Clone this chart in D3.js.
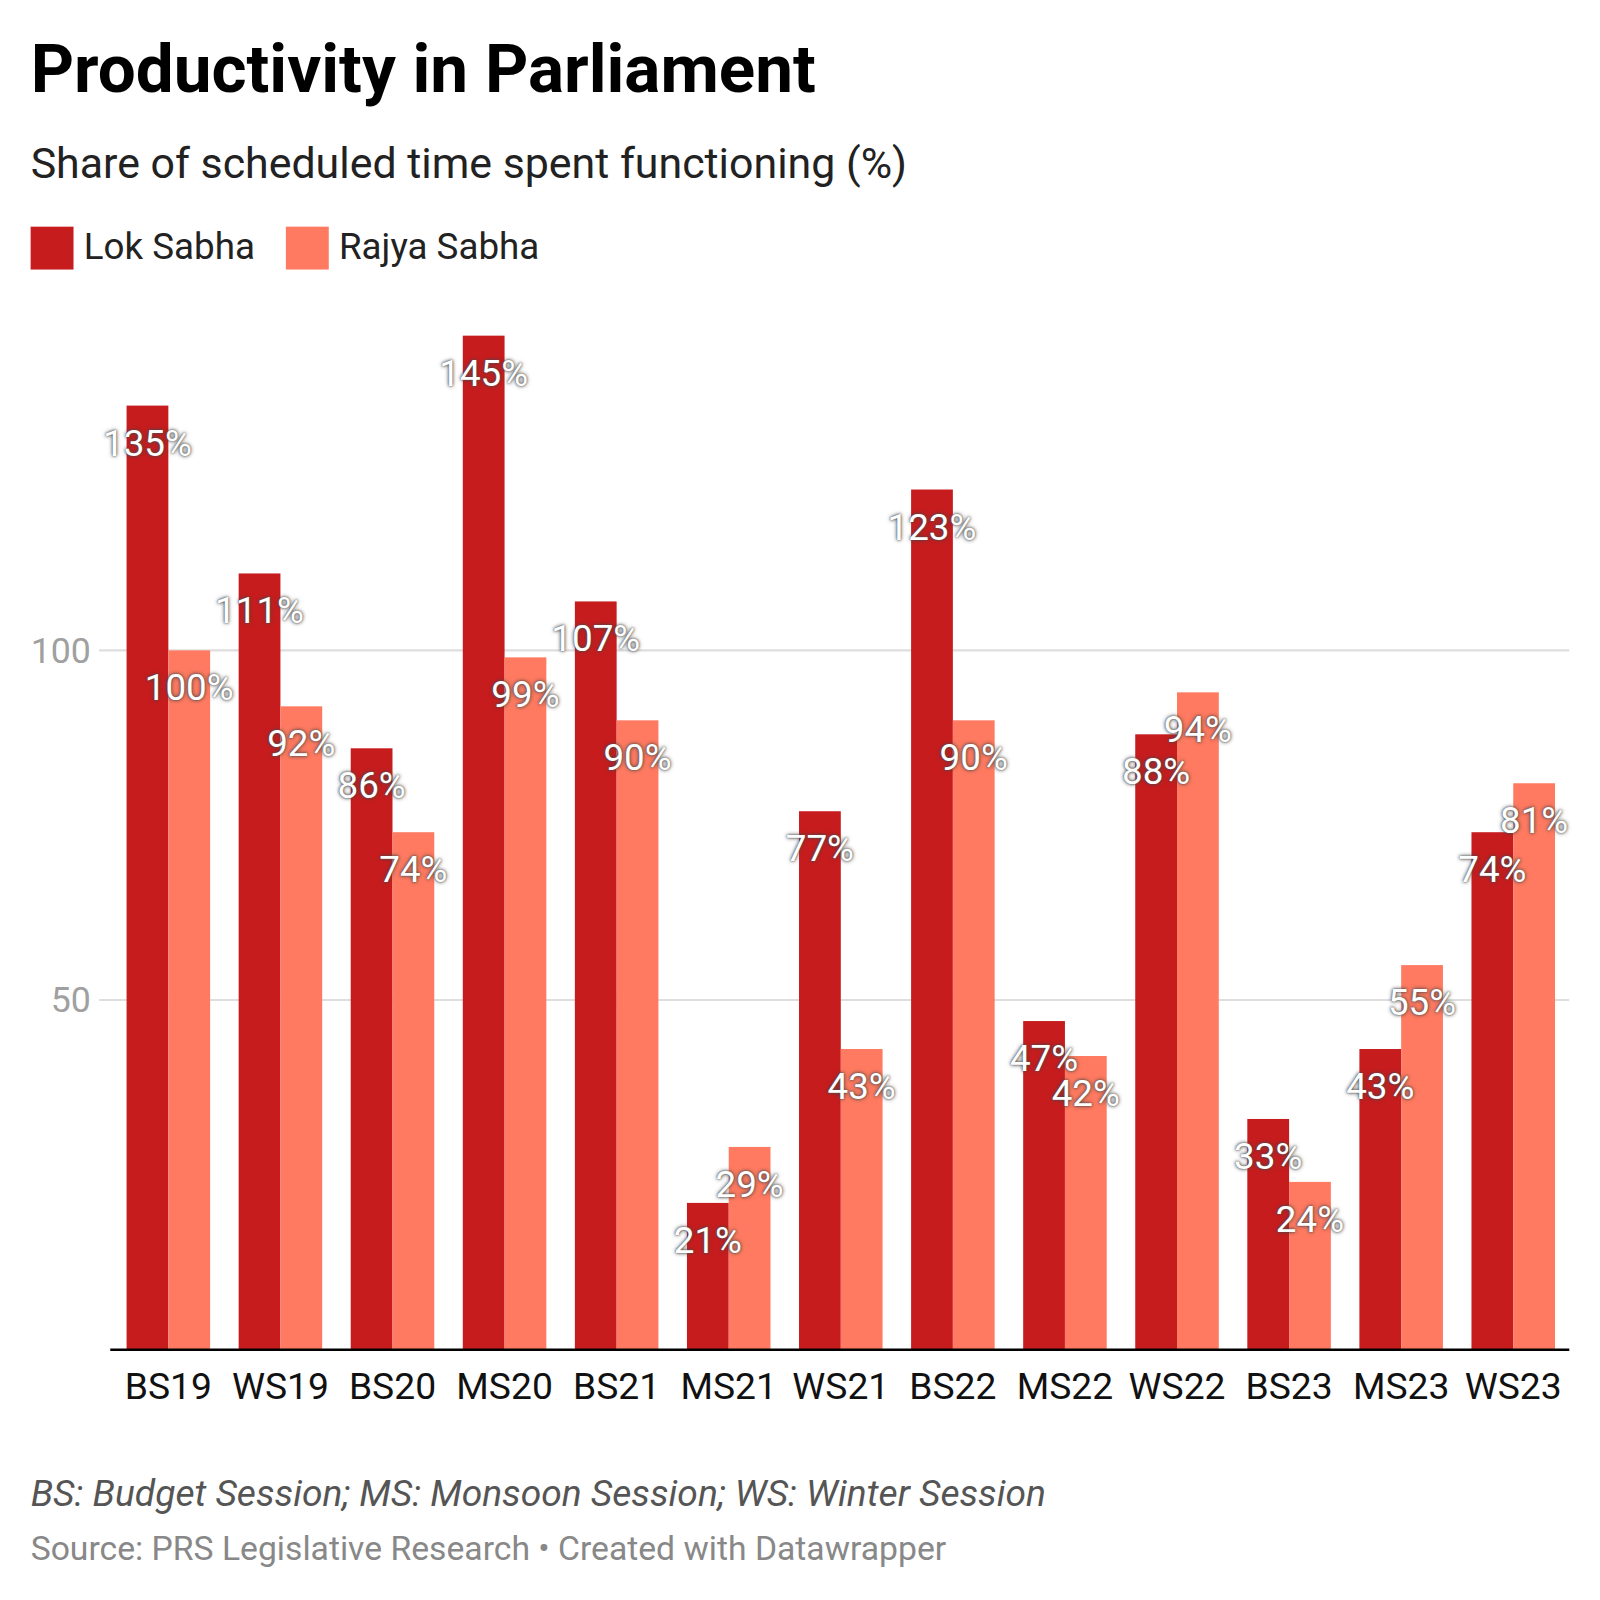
<!DOCTYPE html>
<html>
<head>
<meta charset="utf-8">
<title>Productivity in Parliament</title>
<script src="https://cdn.jsdelivr.net/npm/d3@7"></script>
<style>
  body { margin: 0; background: #fff; }
  text { font-family: Roboto, "Noto Sans", sans-serif; }
  .val { fill: #fff; text-shadow: 0 0 4px #444, 0 0 2px #555; }
</style>
</head>
<body>
<div id="chartDiv"></div>
<script>
// data
const sessions = ['BS19','WS19','BS20','MS20','BS21','MS21','WS21','BS22','MS22','WS22','BS23','MS23','WS23'];
const lokSabha = [135,111,86,145,107,21,77,123,47,88,33,43,74];
const rajyaSabha = [100,92,74,99,90,29,43,90,42,94,24,55,81];
const seriesNames = ['Lok Sabha','Rajya Sabha'];
const yTicks = [50, 100];

const colors = ['#c71c1e','#ff7a60'];
const W = 1600, H = 1600;
const k = 1.021; // layout below is in a 1567px frame, scaled up to the page
const innerW = W / k;
const margin = { left: 110, right: innerW - 1537 };
const baseY = 1322;

const svg = d3.select('#chartDiv').append('svg')
  .attr('width', W).attr('height', H);
svg.append('rect').attr('width', W).attr('height', H).attr('fill', '#fff');
const root = svg.append('g').attr('transform', `scale(${k})`);

// header
root.append('text').attr('x', 30).attr('y', 90)
  .attr('font-size', 66).attr('font-weight', 700).attr('fill', '#000')
  .text('Productivity in Parliament');
root.append('text').attr('x', 30).attr('y', 174)
  .attr('font-size', 42).attr('fill', '#222')
  .text('Share of scheduled time spent functioning (%)');

// legend
const legend = root.append('g').attr('transform', 'translate(30,222)');
const legX = [0, 250];
seriesNames.forEach((s, i) => {
  const g = legend.append('g').attr('transform', `translate(${legX[i]},0)`);
  g.append('rect').attr('width', 42).attr('height', 42).attr('fill', colors[i]);
  g.append('text').attr('x', 52).attr('y', 32).attr('font-size', 36).attr('fill', '#222').text(s);
});

// scales
const x0 = d3.scaleBand().domain(sessions)
  .range([margin.left, innerW - margin.right])
  .paddingInner(0.2545).paddingOuter(0.12725);
const x1 = d3.scaleBand().domain(seriesNames).range([0, x0.bandwidth()]);
const y = d3.scaleLinear().domain([0, 100]).range([baseY, baseY - 685]);

// grid
const grid = root.append('g');
yTicks.forEach(t => {
  grid.append('line').attr('x1', 97).attr('x2', innerW - margin.right)
    .attr('y1', y(t)).attr('y2', y(t))
    .attr('stroke', '#dedede').attr('stroke-width', 2);
  grid.append('text').attr('x', 89).attr('y', y(t) + 12)
    .attr('text-anchor', 'end').attr('font-size', 35).attr('fill', '#a0a0a0')
    .text(t);
});

// bars
const rows = sessions.map((s, i) => ({ session: s, values: [lokSabha[i], rajyaSabha[i]] }));
const groups = root.append('g').selectAll('g').data(rows).enter().append('g')
  .attr('transform', d => `translate(${x0(d.session)},0)`);

groups.selectAll('rect').data(d => d.values.map((v, i) => ({ key: seriesNames[i], v, i })))
  .enter().append('rect')
  .attr('x', d => x1(d.key))
  .attr('width', x1.bandwidth())
  .attr('y', d => y(d.v))
  .attr('height', d => y(0) - y(d.v))
  .attr('fill', d => colors[d.i]);

groups.selectAll('text.val').data(d => d.values.map((v, i) => ({ key: seriesNames[i], v, i })))
  .enter().append('text')
  .attr('class', 'val')
  .attr('x', d => x1(d.key) + x1.bandwidth() / 2)
  .attr('y', d => y(d.v) + 49)
  .attr('text-anchor', 'middle')
  .attr('font-size', 36)
  .text(d => d.v + '%');

// x axis
root.append('line').attr('x1', 108).attr('x2', innerW - margin.right)
  .attr('y1', y(0)).attr('y2', y(0))
  .attr('stroke', '#000').attr('stroke-width', 2.5);

root.append('g').selectAll('text').data(sessions).enter().append('text')
  .attr('x', d => x0(d) + x0.bandwidth() / 2)
  .attr('y', y(0) + 48)
  .attr('text-anchor', 'middle')
  .attr('font-size', 36.5)
  .attr('fill', '#111')
  .text(d => d);

// footer
root.append('text').attr('x', 30).attr('y', 1475)
  .attr('font-size', 36.4).attr('font-style', 'italic').attr('fill', '#555')
  .text('BS: Budget Session; MS: Monsoon Session; WS: Winter Session');
root.append('text').attr('x', 30).attr('y', 1528)
  .attr('font-size', 33).attr('fill', '#888')
  .text('Source: PRS Legislative Research • Created with Datawrapper');
</script>
</body>
</html>
